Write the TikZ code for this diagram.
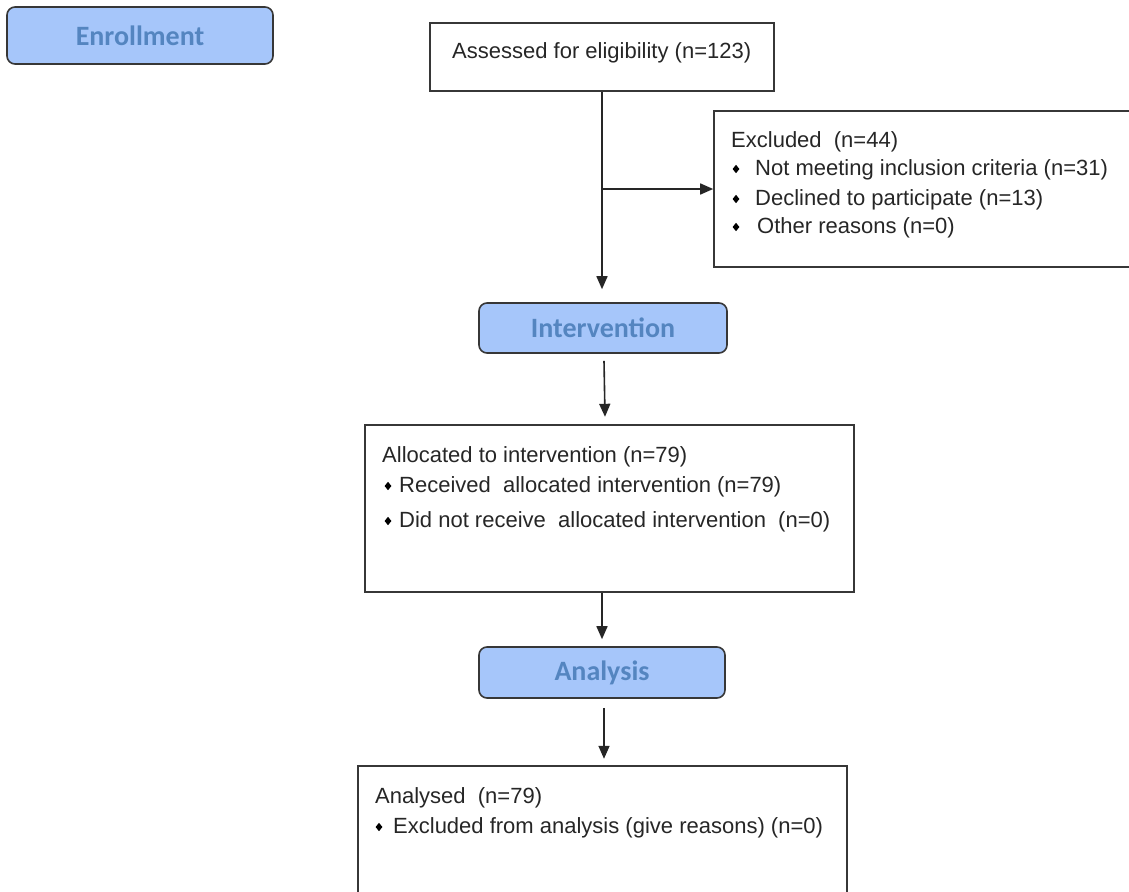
\documentclass[tikz,border=0pt]{standalone}
\usepackage{fontspec}
\setmainfont{Liberation Sans}
\newfontfamily\hfont{Carlito}
\usetikzlibrary{arrows.meta,shapes.geometric,calc}
\definecolor{hfill}{RGB}{166,198,250}
\definecolor{htext}{RGB}{84,133,192}
\definecolor{bord}{RGB}{55,55,55}
\begin{document}
\begin{tikzpicture}[x=1pt,y=-1pt,
  head/.style={draw=bord,line width=1.6pt,fill=hfill,rounded corners=8pt,inner sep=0pt,
     font=\hfont\bfseries\fontsize{28}{30}\selectfont,text=htext},
  box/.style={draw=bord,line width=1.6pt,inner sep=0pt},
  txt/.style={anchor=base west,inner sep=0pt,font=\fontsize{22}{24}\selectfont,text=black!85},
  bul/.style={diamond,fill=black,inner sep=0pt,minimum width=7pt,minimum height=8.5pt},
  arr/.style={line width=1.6pt,draw=black!85,-{Triangle[length=13pt,width=11pt]}}]
\useasboundingbox (0,0) rectangle (1129,891);
\clip (0,0) rectangle (1129,891);
% headings
\node[head,minimum width=266pt,minimum height=57pt] (enr) at (140,35.5) {Enrollment};
\node[head,minimum width=248pt,minimum height=50pt] (intv) at (603,328) {Intervention};
\node[head,minimum width=246pt,minimum height=51pt] (anal) at (602,672.5) {Analysis};
% boxes
\node[box,minimum width=344pt,minimum height=68pt] (assess) at (602,57) {};
\node[box,minimum width=426pt,minimum height=156pt] (excl) at (927,189) {};
\node[box,minimum width=489pt,minimum height=167pt] (alloc) at (609.5,508.5) {};
\node[box,minimum width=489pt,minimum height=140pt] (analysed) at (602.5,836) {};
% texts
\node[txt] (t1) at (452,59) {Assessed for eligibility (n=123)};
\node[txt] (t2) at (731,147) {Excluded\ \ (n=44)};
\node[bul] (b21) at (736,169) {};
\node[txt] (t21) at (755,175) {Not meeting inclusion criteria (n=31)};
\node[bul] (b22) at (736,199) {};
\node[txt] (t22) at (755,205) {Declined to participate (n=13)};
\node[bul] (b23) at (736,227) {};
\node[txt] (t23) at (757,233) {Other reasons (n=0)};
\node[txt] (t3) at (382,462) {Allocated to intervention (n=79)};
\node[bul] (b31) at (388,486) {};
\node[txt] (t31) at (399,492) {Received\ \ allocated intervention (n=79)};
\node[bul] (b32) at (388,521) {};
\node[txt] (t32) at (399,527) {Did not receive\ \ allocated intervention\ \ (n=0)};
\node[txt] (t4) at (375,803) {Analysed\ \ (n=79)};
\node[bul] (b41) at (379,827) {};
\node[txt] (t41) at (393,833) {Excluded from analysis (give reasons) (n=0)};
% connectors
\coordinate (split) at (602,189);
\draw[arr,shorten >=13pt] (assess.south -| split) -- (split |- intv.north);
\draw[arr] (split) -- (excl.west |- split);
\draw[arr] ($(intv.south)+(1,7)$) -- ($(intv.south)+(2,63)$);
\draw[arr,shorten >=7pt] (anal.north |- alloc.south) -- (anal.north);
\draw[arr] ($(anal.south)+(2,9)$) -- ($(anal.south)+(2,60)$);
\end{tikzpicture}
\end{document}
